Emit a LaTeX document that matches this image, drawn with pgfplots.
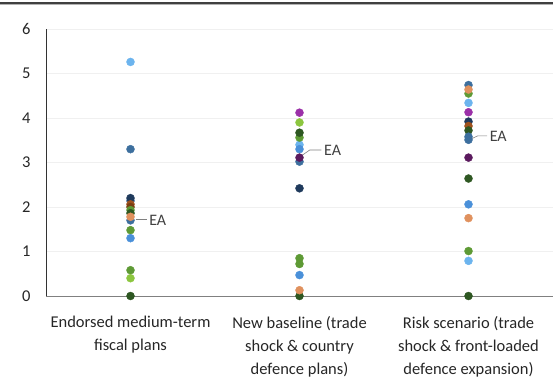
\documentclass[border=0pt]{standalone}
\usepackage{pgfplots}
\pgfplotsset{compat=1.18}
\usepackage{fontspec}
\setmainfont{Carlito}
\definecolor{lblue}{HTML}{6CB4EE}
\definecolor{steel}{HTML}{3D6F9E}
\definecolor{navy}{HTML}{1F3A5C}
\definecolor{mblue}{HTML}{4A90D9}
\definecolor{brown}{HTML}{A0521E}
\definecolor{dbrown}{HTML}{7A3E12}
\definecolor{orange}{HTML}{E0915E}
\definecolor{green}{HTML}{5E9A35}
\definecolor{lgreen}{HTML}{8CC63F}
\definecolor{dgreen}{HTML}{2E5722}
\definecolor{purple}{HTML}{9B30A8}
\definecolor{dpurple}{HTML}{5B1A5E}
\definecolor{txt}{HTML}{404040}
\begin{document}
\fontsize{16}{23}\selectfont
\begin{tikzpicture}
\begin{axis}[
  scale only axis, width=507pt, height=267pt,
  xmin=-0.5, xmax=2.5, ymin=0, ymax=6,
  axis lines*=left,
  x axis line style={-, draw=gray, line width=0.8pt},
  y axis line style={-, draw=black!80, line width=0.8pt},
  ymajorgrids, grid style={draw=gray!12, line width=0.8pt},
  ytick={0,1,2,3,4,5,6}, xtick={0,1,2},
  major tick length=0pt,
  xticklabels={Endorsed medium-term\\fiscal plans, New baseline (trade\\shock \& country\\defence plans), Risk scenario (trade\\shock \& front-loaded\\defence expansion)},
  xticklabel style={align=center, font=\fontsize{16.5}{23}\selectfont, text=black!85, yshift=-15pt},
  yticklabel style={font=\fontsize{16.5}{19}\selectfont, text=black!85, xshift=-10pt},
  /pgf/number format/assume math mode=true,
  clip=false,
  every axis plot/.append style={only marks, mark=*, mark size=4pt},
]
\addplot[lblue] coordinates {(0,5.26) (1,3.40) (2,4.34) (2,0.79)};
\addplot[steel] coordinates {(0,3.30) (0,2.14) (0,1.70) (1,3.02) (2,4.74) (2,3.51)};
\addplot[navy] coordinates {(0,2.20) (1,2.42) (2,3.92)};
\addplot[brown] coordinates {(0,2.06) (2,3.82)};
\addplot[dbrown] coordinates {(0,2.00)};
\addplot[green] coordinates {(0,1.93) (0,1.48) (0,0.58) (1,3.56) (1,0.85) (1,0.72) (2,4.55) (2,1.01)};
\addplot[dgreen] coordinates {(0,1.86) (0,0) (1,3.67) (1,0) (2,3.72) (2,2.64) (2,0)};
\addplot[mblue] coordinates {(0,1.30) (1,3.30) (1,0.47) (2,2.06)};
\addplot[lgreen] coordinates {(0,0.40) (1,3.90)};
\addplot[purple] coordinates {(1,4.12) (2,4.13)};
\addplot[dpurple] coordinates {(1,3.11) (2,3.11)};
\addplot[orange] coordinates {(0,1.78) (1,0.13) (2,4.64) (2,1.75)};
\addplot[steel] coordinates {(2,3.58)};
% EA annotations
\draw[gray, line width=0.6pt] (axis cs:0.03,1.72) -- (axis cs:0.10,1.72);
\node[anchor=west, inner sep=0pt, text=txt] at (axis cs:0.11,1.69) {EA};
\draw[gray, line width=0.6pt] (axis cs:1.0,3.12) -- (axis cs:1.06,3.28) -- (axis cs:1.13,3.28);
\node[anchor=west, inner sep=0pt, text=txt] at (axis cs:1.145,3.27) {EA};
\draw[gray, line width=0.6pt] (axis cs:2.01,3.52) -- (axis cs:2.055,3.60) -- (axis cs:2.11,3.60);
\node[anchor=west, inner sep=0pt, text=txt] at (axis cs:2.125,3.59) {EA};
\end{axis}
\draw[black!75, line width=1.2pt] (-46pt,293pt) -- (507pt,293pt);
\draw[black!30, line width=0.6pt] (-46pt,291.8pt) -- (507pt,291.8pt);
\pgfresetboundingbox
\useasboundingbox (-46pt,-85pt) rectangle (507pt,296pt);
\end{tikzpicture}
\end{document}
